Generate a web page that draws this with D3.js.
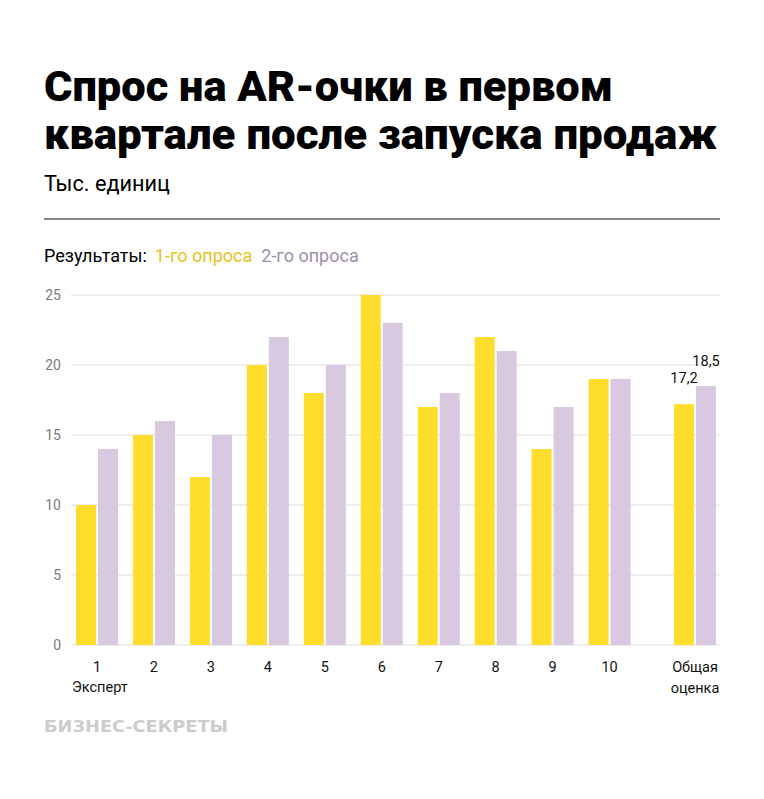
<!DOCTYPE html>
<html><head><meta charset="utf-8">
<script src="https://cdn.jsdelivr.net/npm/d3@7"></script>
<style>
html,body{margin:0;padding:0;background:#fff;}
svg{display:block;}
</style></head>
<body>
<svg id="chart" width="764" height="799"></svg>
<script>
const categories = ["1","2","3","4","5","6","7","8","9","10","Общая оценка"];
const survey1 = [10,15,12,20,18,25,17,22,14,19,17.2];
const survey2 = [14,16,15,22,20,23,18,21,17,19,18.5];
const yTicks = [0,5,10,15,20,25];
const valueLabels1 = [null,null,null,null,null,null,null,null,null,null,"17,2"];
const valueLabels2 = [null,null,null,null,null,null,null,null,null,null,"18,5"];

const svg = d3.select("#chart");
const yellow = "#FFDD2D", purple = "#D8C8E0";

// Title
const titleFont = "Roboto, 'Liberation Sans', sans-serif";
svg.append("text").attr("x",44).attr("y",101).text("Спрос на AR-очки в первом")
  .style("font-family",titleFont).style("font-weight","900").style("font-size","43px").attr("fill","#000")
  .attr("textLength",569).attr("lengthAdjust","spacingAndGlyphs");
svg.append("text").attr("x",44).attr("y",149).text("квартале после запуска продаж")
  .style("font-family",titleFont).style("font-weight","900").style("font-size","43px").attr("fill","#000")
  .attr("textLength",673).attr("lengthAdjust","spacingAndGlyphs");
svg.append("text").attr("x",44).attr("y",191).text("Тыс. единиц")
  .style("font-family",titleFont).style("font-size","22px").attr("fill","#000")
  .attr("textLength",126).attr("lengthAdjust","spacingAndGlyphs");
svg.append("line").attr("x1",44).attr("x2",720).attr("y1",219).attr("y2",219)
  .attr("stroke","#888").attr("stroke-width",2);

// Legend
const lg = svg.append("text").attr("x",44).attr("y",262)
  .style("font-family","Roboto, sans-serif").style("font-size","18px");
lg.append("tspan").text("Результаты:").attr("fill","#000");
lg.append("tspan").attr("dx",8).text("1-го опроса").attr("fill","#E8C21C");
lg.append("tspan").attr("dx",9).text("2-го опроса").attr("fill","#9E8FAB");

// Scales
const y = d3.scaleLinear().domain([0,25]).range([645,295]);
const slot = i => i < 10 ? i : i + 0.5;
const x = d3.scaleLinear().domain([0,10.5]).range([97,695]);
const barW = 20, gap = 2;

// Grid
const gridG = svg.append("g");
gridG.selectAll("line").data(yTicks).join("line")
  .attr("x1",71).attr("x2",720).attr("y1",d=>y(d)).attr("y2",d=>y(d))
  .attr("stroke","#eeeeee").attr("stroke-width",2);
// Y axis labels via d3 axis
const yAxis = d3.axisLeft(y).tickValues(yTicks).tickSize(0).tickPadding(0);
const yg = svg.append("g").attr("transform","translate(61,0)").call(yAxis);
yg.select(".domain").remove();
yg.selectAll("text").style("font-family","Roboto, sans-serif").style("font-size","14px")
  .attr("fill","#7a7a7a").attr("dy","0.32em");

// Bars
const data = categories.map((c,i)=>({c,i,a:survey1[i],b:survey2[i],la:valueLabels1[i],lb:valueLabels2[i]}));
const bars = svg.append("g");
bars.selectAll(".b1").data(data).join("rect").attr("class","b1")
  .attr("x",d=>x(slot(d.i)) - barW - gap/2).attr("width",barW)
  .attr("y",d=>y(d.a)).attr("height",d=>y(0)-y(d.a)).attr("fill",yellow);
bars.selectAll(".b2").data(data).join("rect").attr("class","b2")
  .attr("x",d=>x(slot(d.i)) + gap/2).attr("width",barW)
  .attr("y",d=>y(d.b)).attr("height",d=>y(0)-y(d.b)).attr("fill",purple);

// Value labels
const vl = svg.append("g").style("font-family","Roboto, sans-serif").style("font-size","14.5px").attr("fill","#111");
vl.selectAll(".l1").data(data.filter(d=>d.la)).join("text")
  .attr("x",d=>x(slot(d.i)) - barW/2 - gap/2).attr("y",d=>y(d.a)-21)
  .attr("text-anchor","middle").text(d=>d.la);
vl.selectAll(".l2").data(data.filter(d=>d.lb)).join("text")
  .attr("x",d=>x(slot(d.i)) + barW/2 + gap/2).attr("y",d=>y(d.b)-20)
  .attr("text-anchor","middle").text(d=>d.lb);

// X labels
const xl = svg.append("g").style("font-family","Roboto, sans-serif").style("font-size","14.5px").attr("fill","#111");
data.forEach(d=>{
  const t = xl.append("text").attr("x",x(slot(d.i))).attr("text-anchor","middle");
  const parts = d.c.split(" ");
  parts.forEach((p,k)=>t.append("tspan").attr("x",x(slot(d.i))).attr("y",672+k*21).text(p));
});
xl.append("text").attr("x",72).attr("y",692).text("Эксперт");

// Watermark
svg.append("text").attr("x",44).attr("y",732).text("БИЗНЕС-СЕКРЕТЫ")
  .style("font-family","'DejaVu Sans', sans-serif").style("font-weight","700").style("font-size","15px")
  .attr("fill","#cccccc").attr("textLength",184).attr("lengthAdjust","spacingAndGlyphs");
</script>
</body></html>
